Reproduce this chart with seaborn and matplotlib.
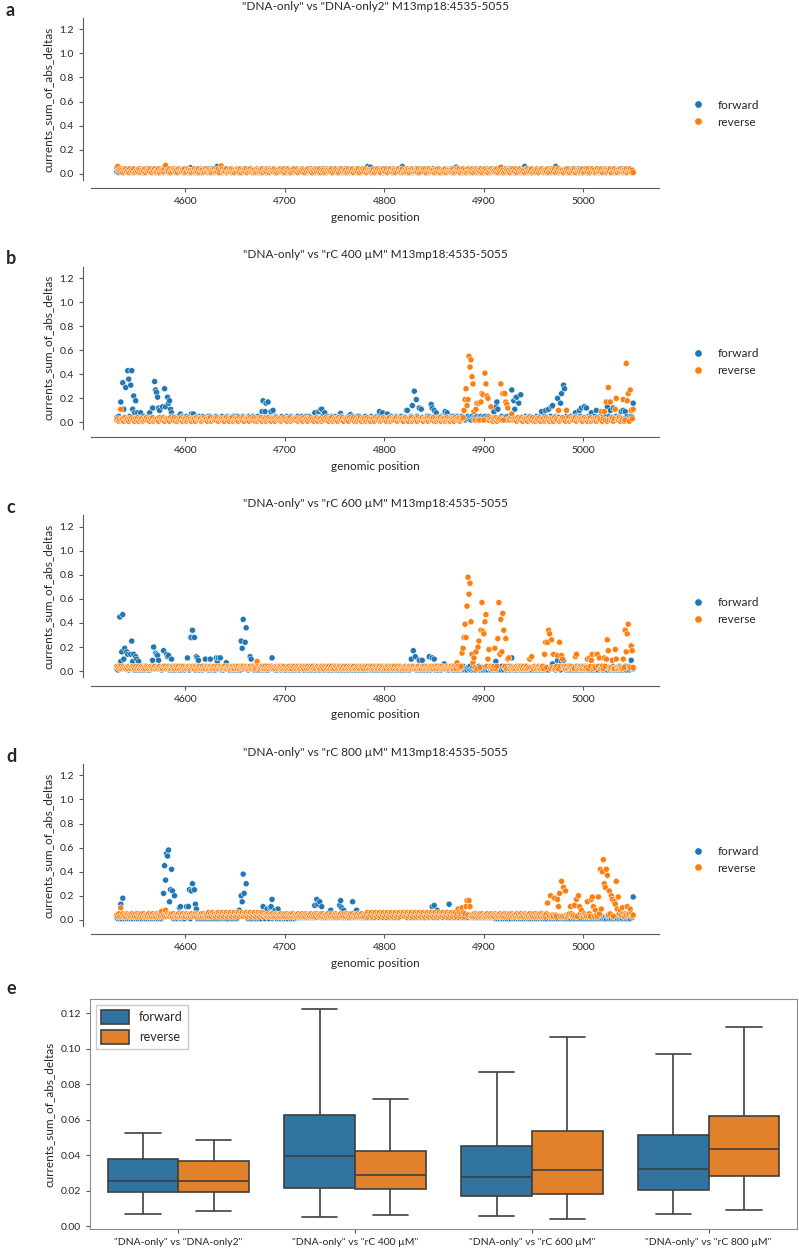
import numpy as np
import pandas as pd
import matplotlib
matplotlib.use("Agg")
import matplotlib.pyplot as plt
import seaborn as sns

# Configuration
START = 4531
STRANDS = ["forward", "reverse"]
PALETTE = ["#1f77b4", "#ff7f0e"]

TITLES = [
    '"DNA-only" vs "DNA-only2" M13mp18:4535-5055',
    '"DNA-only" vs "rC 400 µM" M13mp18:4535-5055',
    '"DNA-only" vs "rC 600 µM" M13mp18:4535-5055',
    '"DNA-only" vs "rC 800 µM" M13mp18:4535-5055',
]
LETTERS = ["a", "b", "c", "d", "e"]

# baseline: one digit per genomic position = value in hundredths (from START on)
A_FWD = [
    "2312324132 3241231423 2312432132 1423213241 3212423123",
    "2413213241 3124232143 2312413241 2132412323 4123142312",
    "3213241232 1423214231 3241231242 3123241321 2413212432",
    "1324123241 3212432123 4132123142 3241232413 2123241321",
    "2431232412 3123241324 2132413212 4231324123 2413212342",
    "3123421324 1232413213 2412323142 1324212432 3124132123",
    "2412312432 1324123241 3212413213 2412324132 1242312413",
    "3212413241 2312412321 3241321243 2132412312 4123241321",
    "2132413212 3241231423 1324123241 3212432132 4123142312",
    "3241232143 2312413213 2412321432 1324123241 3213241232",
    "1423213241 2312432132",
]
A_REV = [
    "5232431324 2314232412 3243123241 3232413242 2341323243",
    "2324132432 3142323241 2432313242 3241323124 2343213242",
    "3241324232 4123242313 2432413232 4132423231 2432324132",
    "2431323242 3132423241 3242313242 2413232431 3242321324",
    "3242413231 2432324132 4231324232 3124232413 2324132432",
    "4132323241 3242313242 2413242323 1324232412 3243132423",
    "2324132432 4132423231 3242413232 4132323241 2432413242",
    "3124232413 2432324132 4231324232 3241324231 2432313242",
    "2413242323 1324232412 3243132423 2324132432 4132423231",
    "3242413232 4132323241 2432413242 3124232413 2432324132",
    "4231324232 3241324231",
]
B_FWD = [
    "4353424534 3425343543 2435342534 4352435342 5342435243",
    "3543425343 4253435242 5343542534 3425343524 4352534342",
    "5342435243 3524343525 4353424534 2435343524 3452435342",
    "4352534243 5343425342 3524353424 4253435243 5342534342",
    "3425343524 4352435342 5343425342 2435342534 4352534243",
    "5243435243 3524353424 4253435242 3543425343 4253435342",
    "3452435342 4352534342 5342435243 3524343525 4353424534",
    "2435342534 4352435342 5342534243 3425343524 4352534342",
    "5343425342 3524353424 4253435243 5342435243 3543425343",
    "4253435242 3452435342 4352534243 5243435243 3524353424",
    "4353424534 3425343543",
]
B_REV = [
    "2312323142 2313242313 2413231232 4231324123 2314232413",
    "3231423241 3123241323 1242313231 4232312342 3132412323",
    "2413232313 4231324123 2314232413 3231423241 3123241323",
    "1242313231 4232312342 3132412323 2312323142 2313242313",
    "2413231232 4231324123 2314232413 3231423241 3123241323",
    "1242313231 4232312342 3132412323 2413232313 4231324123",
    "2314232413 3231423241 3123241323 1242313231 4232312342",
    "3132412323 2312323142 2313242313 2413231232 4231324123",
    "2314232413 3231423241 3123241323 1242313231 4232312342",
    "3132412323 2413232313 4231324123 2314232413 3231423241",
    "3123241323 1242313231",
]
C_FWD = [
    "2132312413 2312132412 3121321241 2131241321 2412312132",
    "1321231241 2312132412 3121321241 2131231421 3212413121",
    "2312412132 1241321231 2413121321 2312132412 3121321241",
    "1213241231 2132412312 1321231241 2312132412 3121321241",
    "2312132412 3121321241 2131241321 2412312132 1321231241",
    "3212413121 2312412132 1241321231 2413121321 2312132412",
    "2131241321 2412312132 1321231241 2312132412 3121321241",
    "1213241231 2132412312 3121321241 2131231421 3212413121",
    "2131241321 2412312132 1321231241 2312132412 3121321241",
    "2312412132 1241321231 2413121321 2312132412 3121321241",
    "2131241321 2412312132",
]
C_REV = [
    "4323423432 3243234324 2342343232 4323432342 3234232434",
    "2343234324 3242343423 2343234324 3234234232 4323432342",
    "3423432342 2343234324 3242343423 4323423432 3243234324",
    "2342343232 4323432342 3234232434 2343234324 3242343423",
    "2343234324 3234234232 4323432342 3423432342 2343234324",
    "3242343423 4323423432 3243234324 2342343232 4323432342",
    "3234232434 2343234324 3242343423 2343234324 3234234232",
    "4323432342 3423432342 2343234324 3242343423 4323423432",
    "3243234324 2342343232 4323432342 3234232434 2343234324",
    "3242343423 2343234324 3234234232 4323432342 3423432342",
    "2343234324 3242343423",
]
D_FWD = [
    "2121312213 1213121321 2131213121 3121213121 2131212312",
    "1213212131 2121312213 1213121321 2131213121 3121213121",
    "2131212312 1213212131 2121312213 1213121321 2131213121",
    "3121213121 2131212312 1213212131 2232322323 2323232423",
    "2323423232 3242323232 4232323242 3232423232 3242323232",
    "3242343234 2343234324 3243234324 3234234343 4323432342",
    "3423432342 2343234324 3242343423 4323423432 3243234324",
    "2342343232 3232423232 2323232423 2121312213 1213121321",
    "2131213121 3121213121 2131212312 1213212131 2121312213",
    "1213121321 2131213121 3121213121 2131212312 1213212131",
    "2121312213 1213121321",
]
D_REV = [
    "4353435343 5434353435 3543453534 4353435343 5434353435",
    "3543453534 4353435343 5434353435 3543453534 4363536453",
    "5463546354 6354635463 5463546354 6354635463 5463546354",
    "4353435343 5434353435 3543453534 4353435343 5434353435",
    "3543453534 4353435343 5434353435 3543453534 4353435343",
    "5463546354 6354635463 5463546354 6354635463 5463546354",
    "6354635463 5463546354 6354635463 5463546354 6354635463",
    "5434353435 3543453534 4353435343 5434353435 3543453534",
    "4353435343 5434353435 3543453534 4353435343 5434353435",
    "3543453534 4353435343 5434353435 3543453534 4353435343",
    "5434353435 3543453534",
]

# positions that stand out of the baseline: {position: value}
A_FWD_PEAKS = {4605: 0.05, 4632: 0.06, 4783: 0.06, 4786: 0.055, 4818: 0.06,
               4872: 0.055, 4941: 0.06, 4972: 0.06}
A_REV_PEAKS = {4532: 0.06, 4580: 0.07, 4636: 0.065, 4917: 0.055}
B_FWD_PEAKS = {
    4535: 0.17, 4537: 0.33, 4538: 0.11, 4540: 0.29, 4542: 0.43, 4543: 0.36,
    4545: 0.31, 4546: 0.43, 4547: 0.11, 4548: 0.22, 4549: 0.08, 4550: 0.18,
    4552: 0.08, 4555: 0.08, 4564: 0.08, 4567: 0.12, 4569: 0.34, 4570: 0.27,
    4571: 0.25, 4572: 0.21, 4573: 0.12, 4574: 0.10, 4577: 0.13, 4579: 0.28,
    4580: 0.13, 4582: 0.21, 4583: 0.16, 4584: 0.18, 4585: 0.11, 4586: 0.08,
    4595: 0.07, 4606: 0.07, 4608: 0.07, 4677: 0.09, 4678: 0.18, 4680: 0.09,
    4681: 0.16, 4683: 0.17, 4686: 0.09, 4688: 0.10, 4730: 0.08, 4734: 0.09,
    4736: 0.11, 4737: 0.11, 4740: 0.08, 4756: 0.075, 4766: 0.065, 4795: 0.09,
    4798: 0.08, 4803: 0.07, 4822: 0.10, 4823: 0.10, 4828: 0.14, 4830: 0.26,
    4832: 0.19, 4835: 0.12, 4837: 0.11, 4847: 0.15, 4848: 0.12, 4850: 0.10,
    4852: 0.08, 4861: 0.09, 4863: 0.08, 4910: 0.09, 4912: 0.13, 4913: 0.17,
    4914: 0.11, 4928: 0.27, 4930: 0.18, 4931: 0.11, 4932: 0.21, 4933: 0.21,
    4935: 0.16, 4937: 0.23, 4958: 0.09, 4962: 0.10, 4965: 0.11, 4968: 0.13,
    4969: 0.14, 4974: 0.20, 4977: 0.16, 4978: 0.24, 4980: 0.31, 4981: 0.28,
    4992: 0.08, 4996: 0.10, 4998: 0.12, 5001: 0.13, 5003: 0.12, 5008: 0.08,
    5013: 0.10, 5024: 0.13, 5027: 0.10, 5030: 0.12, 5038: 0.09, 5040: 0.10,
    5042: 0.09, 5050: 0.16,
}
B_REV_PEAKS = {
    4535: 0.11, 4880: 0.10, 4881: 0.19, 4882: 0.28, 4883: 0.14, 4884: 0.19,
    4885: 0.55, 4886: 0.46, 4887: 0.52, 4888: 0.38, 4889: 0.32, 4890: 0.09,
    4892: 0.11, 4893: 0.16, 4895: 0.16, 4897: 0.17, 4898: 0.24, 4899: 0.23,
    4901: 0.41, 4902: 0.32, 4903: 0.22, 4904: 0.20, 4907: 0.13, 4917: 0.32,
    4919: 0.24, 4921: 0.24, 4922: 0.17, 4923: 0.15, 4924: 0.12, 4928: 0.07,
    4975: 0.10, 4983: 0.10, 5018: 0.09, 5021: 0.09, 5023: 0.17, 5025: 0.29,
    5027: 0.17, 5032: 0.11, 5033: 0.20, 5040: 0.19, 5043: 0.49, 5044: 0.18,
    5045: 0.24, 5047: 0.27, 5048: 0.10, 5050: 0.11,
}
C_FWD_PEAKS = {
    4534: 0.45, 4535: 0.08, 4536: 0.16, 4537: 0.47, 4538: 0.10, 4539: 0.19,
    4541: 0.16, 4542: 0.14, 4545: 0.14, 4546: 0.25, 4547: 0.08, 4548: 0.14,
    4550: 0.12, 4551: 0.10, 4553: 0.08, 4567: 0.09, 4568: 0.20, 4570: 0.15,
    4571: 0.14, 4572: 0.13, 4573: 0.09, 4578: 0.17, 4581: 0.14, 4582: 0.12,
    4583: 0.13, 4586: 0.10, 4602: 0.11, 4605: 0.28, 4606: 0.28, 4607: 0.34,
    4609: 0.28, 4611: 0.12, 4612: 0.11, 4613: 0.09, 4620: 0.10, 4625: 0.10,
    4631: 0.11, 4632: 0.08, 4633: 0.11, 4635: 0.11, 4641: 0.07, 4656: 0.25,
    4657: 0.19, 4658: 0.43, 4660: 0.24, 4661: 0.36, 4665: 0.12, 4666: 0.10,
    4687: 0.11, 4827: 0.10, 4829: 0.17, 4831: 0.12, 4835: 0.09, 4838: 0.09,
    4845: 0.12, 4848: 0.11, 4850: 0.10, 4860: 0.06, 4912: 0.08, 4928: 0.11,
    4969: 0.06, 4974: 0.09, 4978: 0.08, 4980: 0.09, 5048: 0.09,
}
C_REV_PEAKS = {
    4672: 0.08, 4873: 0.07, 4878: 0.15, 4879: 0.19, 4880: 0.28, 4881: 0.39,
    4882: 0.28, 4883: 0.54, 4884: 0.78, 4885: 0.64, 4886: 0.73, 4887: 0.41,
    4888: 0.14, 4889: 0.07, 4890: 0.11, 4892: 0.16, 4894: 0.20, 4895: 0.25,
    4897: 0.34, 4898: 0.57, 4899: 0.33, 4900: 0.31, 4901: 0.41, 4902: 0.47,
    4904: 0.10, 4905: 0.18, 4911: 0.19, 4914: 0.27, 4915: 0.57, 4916: 0.14,
    4917: 0.43, 4918: 0.16, 4919: 0.48, 4920: 0.34, 4922: 0.27, 4924: 0.10,
    4925: 0.11, 4946: 0.10, 4948: 0.12, 4961: 0.14, 4962: 0.24, 4964: 0.24,
    4965: 0.34, 4966: 0.31, 4968: 0.26, 4970: 0.14, 4974: 0.13, 4976: 0.24,
    4978: 0.13, 4979: 0.10, 4992: 0.12, 4993: 0.14, 5004: 0.10, 5006: 0.11,
    5008: 0.09, 5009: 0.14, 5013: 0.14, 5014: 0.14, 5016: 0.11, 5021: 0.11,
    5023: 0.10, 5024: 0.26, 5025: 0.17, 5029: 0.09, 5032: 0.18, 5033: 0.10,
    5040: 0.10, 5042: 0.34, 5043: 0.16, 5044: 0.31, 5045: 0.39, 5048: 0.21,
    5049: 0.17,
}
D_FWD_PEAKS = {
    4535: 0.13, 4537: 0.18, 4578: 0.22, 4579: 0.45, 4580: 0.33, 4581: 0.55,
    4582: 0.53, 4583: 0.58, 4584: 0.15, 4585: 0.25, 4586: 0.42, 4587: 0.24,
    4589: 0.20, 4594: 0.10, 4595: 0.11, 4601: 0.11, 4603: 0.11, 4604: 0.25,
    4606: 0.24, 4607: 0.30, 4609: 0.25, 4610: 0.13, 4611: 0.09, 4654: 0.08,
    4656: 0.20, 4657: 0.15, 4658: 0.38, 4659: 0.22, 4661: 0.30, 4678: 0.11,
    4682: 0.09, 4685: 0.10, 4686: 0.11, 4687: 0.17, 4690: 0.08, 4693: 0.09,
    4730: 0.12, 4732: 0.17, 4733: 0.13, 4735: 0.15, 4737: 0.11, 4746: 0.08,
    4755: 0.12, 4756: 0.16, 4757: 0.10, 4759: 0.08, 4768: 0.15, 4772: 0.08,
    4848: 0.11, 4850: 0.12, 4853: 0.08, 4865: 0.13, 5050: 0.19,
}
D_REV_PEAKS = {
    4535: 0.10, 4576: 0.07, 4580: 0.08, 4874: 0.09, 4878: 0.10, 4882: 0.11,
    4883: 0.16, 4885: 0.16, 4886: 0.11, 4964: 0.14, 4967: 0.20, 4971: 0.18,
    4974: 0.17, 4975: 0.11, 4976: 0.22, 4978: 0.32, 4980: 0.27, 4982: 0.24,
    4987: 0.11, 4991: 0.12, 4993: 0.17, 4995: 0.20, 4996: 0.11, 4998: 0.08,
    5004: 0.15, 5008: 0.17, 5009: 0.19, 5010: 0.11, 5012: 0.08, 5015: 0.19,
    5017: 0.42, 5018: 0.09, 5019: 0.40, 5020: 0.50, 5021: 0.30, 5022: 0.27,
    5023: 0.42, 5024: 0.37, 5026: 0.24, 5028: 0.20, 5029: 0.17, 5031: 0.15,
    5032: 0.13, 5033: 0.32, 5034: 0.09, 5035: 0.19, 5037: 0.08, 5039: 0.10,
    5044: 0.11, 5047: 0.09,
}

PANELS = [
    (A_FWD, A_FWD_PEAKS, A_REV, A_REV_PEAKS),
    (B_FWD, B_FWD_PEAKS, B_REV, B_REV_PEAKS),
    (C_FWD, C_FWD_PEAKS, C_REV, C_REV_PEAKS),
    (D_FWD, D_FWD_PEAKS, D_REV, D_REV_PEAKS),
]

# panel e: box summaries (whisker low, Q1, median, Q3, whisker high)
COMPARISONS = [
    '"DNA-only" vs "DNA-only2"',
    '"DNA-only" vs "rC 400 µM"',
    '"DNA-only" vs "rC 600 µM"',
    '"DNA-only" vs "rC 800 µM"',
]
FWD_LO = [0.0070, 0.0052, 0.0059, 0.0066]
FWD_Q1 = [0.0190, 0.0217, 0.0172, 0.0206]
FWD_MED = [0.0256, 0.0396, 0.0277, 0.0320]
FWD_Q3 = [0.0377, 0.0626, 0.0451, 0.0513]
FWD_HI = [0.0526, 0.1222, 0.0870, 0.0970]
REV_LO = [0.0083, 0.0064, 0.0043, 0.0092]
REV_Q1 = [0.0194, 0.0209, 0.0183, 0.0281]
REV_MED = [0.0256, 0.0289, 0.0317, 0.0434]
REV_Q3 = [0.0370, 0.0424, 0.0536, 0.0623]
REV_HI = [0.0485, 0.0719, 0.1066, 0.1125]


def series(rows, peaks):
    digits = "".join(rows).replace(" ", "")
    vals = np.array([int(c) for c in digits]) / 100.0
    pos = START + np.arange(len(vals))
    for p, v in peaks.items():
        vals[p - START] = v
    return pos, vals


def panel_frame(fwd, fwd_peaks, rev, rev_peaks):
    parts = []
    for strand, rows, peaks in [("forward", fwd, fwd_peaks), ("reverse", rev, rev_peaks)]:
        pos, vals = series(rows, peaks)
        parts.append(pd.DataFrame({"position": pos, "value": vals, "strand": strand}))
    return pd.concat(parts, ignore_index=True)


sns.set_style("ticks")
plt.rcParams["font.family"] = ["Lato", "DejaVu Sans"]
plt.rcParams["axes.edgecolor"] = "0.35"
plt.rcParams["xtick.color"] = "0.35"
plt.rcParams["ytick.color"] = "0.35"
plt.rcParams["xtick.labelcolor"] = "0.15"
plt.rcParams["ytick.labelcolor"] = "0.15"
plt.rcParams["xtick.major.size"] = 3
plt.rcParams["ytick.major.size"] = 3

W, H = 799, 1249
fig = plt.figure(figsize=(W / 100, H / 100), dpi=100)


def px_axes(left, top, right, bottom):
    return fig.add_axes([left / W, 1 - bottom / H, (right - left) / W, (bottom - top) / H])


TOPS = [18, 266.7, 515.4, 764.1]
for i, (spec, title, top) in enumerate(zip(PANELS, TITLES, TOPS)):
    df = panel_frame(*spec)
    ax = px_axes(91, top, 659, top + 162)
    sns.scatterplot(data=df, x="position", y="value", hue="strand", hue_order=STRANDS,
                    palette=PALETTE, s=19, linewidth=0.35, edgecolor="white", ax=ax)
    ax.set_ylim(-0.052, 1.294)
    ax.set_yticks(np.arange(0, 1.21, 0.2))
    ax.set_xlabel("genomic position", fontsize=8.5)
    ax.set_ylabel("currents_sum_of_abs_deltas", fontsize=8.5)
    ax.set_title(title, fontsize=8.5, pad=6)
    ax.tick_params(labelsize=7.5)
    sns.despine(ax=ax, offset=6)
    sns.move_legend(ax, "center left", bbox_to_anchor=(1.03, 0.41), frameon=False,
                    title=None, fontsize=8.5, handletextpad=0.6, markerscale=1.2)
    fig.text(6 / W, 1 - (top - 8) / H, LETTERS[i], fontsize=13, fontweight="bold", va="center")

# panel e
rows = []
for j, comp in enumerate(COMPARISONS):
    for strand, stats in [("forward", (FWD_LO, FWD_Q1, FWD_MED, FWD_Q3, FWD_HI)),
                          ("reverse", (REV_LO, REV_Q1, REV_MED, REV_Q3, REV_HI))]:
        for s in stats:
            rows.append({"comparison": comp, "strand": strand, "value": s[j]})
box_df = pd.DataFrame(rows)

ax = px_axes(90, 999, 797, 1229)
sns.boxplot(data=box_df, x="comparison", y="value", hue="strand", hue_order=STRANDS,
            palette=PALETTE, whis=(0, 100), showfliers=False, linewidth=1.2, ax=ax)
ax.set_xlabel("")
ax.set_ylabel("currents_sum_of_abs_deltas", fontsize=8.5)
ax.tick_params(labelsize=7.5)
for sp in ax.spines.values():
    sp.set_color("0.55")
sns.move_legend(ax, "upper left", title=None, fontsize=9, frameon=True, fancybox=False,
                edgecolor="0.75", handlelength=2.2, handleheight=1.3)
fig.text(6 / W, 1 - 988 / H, LETTERS[4], fontsize=13, fontweight="bold", va="center")

fig.savefig("out.png", dpi=100)
